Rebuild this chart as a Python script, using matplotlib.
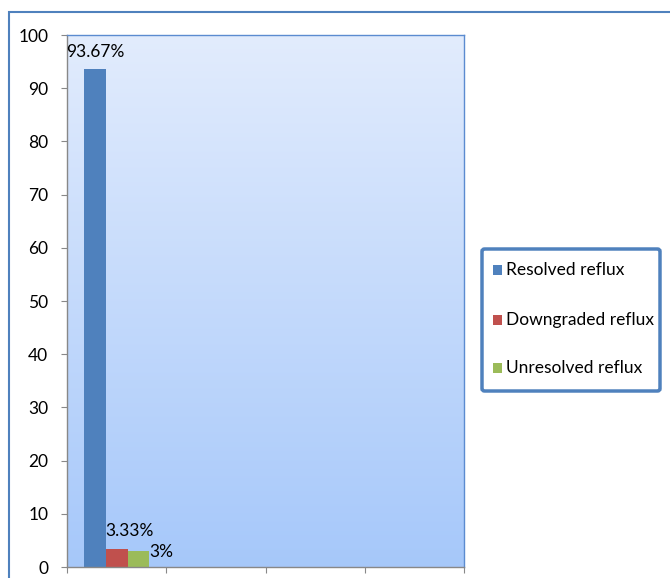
import numpy as np
import matplotlib.pyplot as plt
from matplotlib.patches import Rectangle, FancyBboxPatch

plt.rcParams['font.family'] = ['Lato', 'DejaVu Sans']

series = ['Resolved reflux', 'Downgraded reflux', 'Unresolved reflux']
values = [93.67, 3.33, 3.0]
labels = ['93.67%', '3.33%', '3%']
colors = ['#4F81BD', '#C0504D', '#9BBB59']
n_categories = 4

W, H = 670, 578
fig = plt.figure(figsize=(W / 100, H / 100), dpi=100)

# outer chart frame
fig.patches.append(Rectangle((9 / W, -0.1), 1.2, 1 - 12 / H + 0.1,
                             transform=fig.transFigure, fill=False,
                             edgecolor='#4F81BD', linewidth=1.5))

ax = fig.add_axes([67 / W, 1 - 567 / H, (464 - 67) / W, (567 - 35) / H])

# vertical gradient background
grad = np.linspace(0, 1, 256)[:, None]
top = np.array([0.886, 0.925, 0.992])
bottom = np.array([0.651, 0.784, 0.980])
img = bottom + (top - bottom) * grad
ax.imshow(img[:, None, :].repeat(2, axis=1), extent=[0, 1, 0, 1],
          transform=ax.transAxes, aspect='auto', zorder=0, origin='lower')

bar_w = 0.22
x0 = 0.5
for i, (v, c) in enumerate(zip(values, colors)):
    ax.bar(x0 + (i - 1) * bar_w, v, width=bar_w, color=c, zorder=2)

# value labels
ax.annotate(labels[0], (x0 - bar_w, values[0]), xytext=(1, 17),
            textcoords='offset pixels', ha='center', va='center', fontsize=12.5)
ax.annotate(labels[1], (x0 - bar_w / 2, values[1]), xytext=(0, 18),
            textcoords='offset pixels', ha='left', va='center', fontsize=12.5)
ax.annotate(labels[2], (x0 + bar_w + bar_w / 2, values[2]), xytext=(0, -1),
            textcoords='offset pixels', ha='left', va='center', fontsize=12.5)

ax.set_xlim(0, n_categories)
ax.set_ylim(0, 100)
ax.set_yticks(np.arange(0, 101, 10))
ax.set_xticks(np.arange(0, n_categories + 1))
ax.set_xticklabels([])
ax.tick_params(axis='y', length=4.5, width=0.8, color='#888888', pad=9, labelsize=12.5)
ax.tick_params(axis='x', length=4.5, width=0.8, color='#888888', direction='out')
ax.spines['left'].set_color('#888888')
ax.spines['bottom'].set_color('#888888')
ax.spines['top'].set_color('#5B8BD0')
ax.spines['right'].set_color('#5B8BD0')
for s in ax.spines.values():
    s.set_linewidth(1.0)

# legend box
lx0, ly0, lx1, ly1 = 482, 249, 660, 391
fig.patches.append(FancyBboxPatch((lx0 / W, 1 - ly1 / H), (lx1 - lx0) / W, (ly1 - ly0) / H,
                                  boxstyle='round,pad=0,rounding_size=0.004',
                                  transform=fig.transFigure, facecolor='white',
                                  edgecolor='#4F81BD', linewidth=2.5))
for name, c, yy in zip(series, colors, [270, 320, 368]):
    fig.patches.append(Rectangle((493 / W, 1 - (yy + 5) / H), 9 / W, 10 / H,
                                 transform=fig.transFigure, facecolor=c, edgecolor='none'))
    fig.text(506 / W, 1 - yy / H, name, ha='left', va='center', fontsize=12.5)

fig.savefig('out.png', dpi=100)
